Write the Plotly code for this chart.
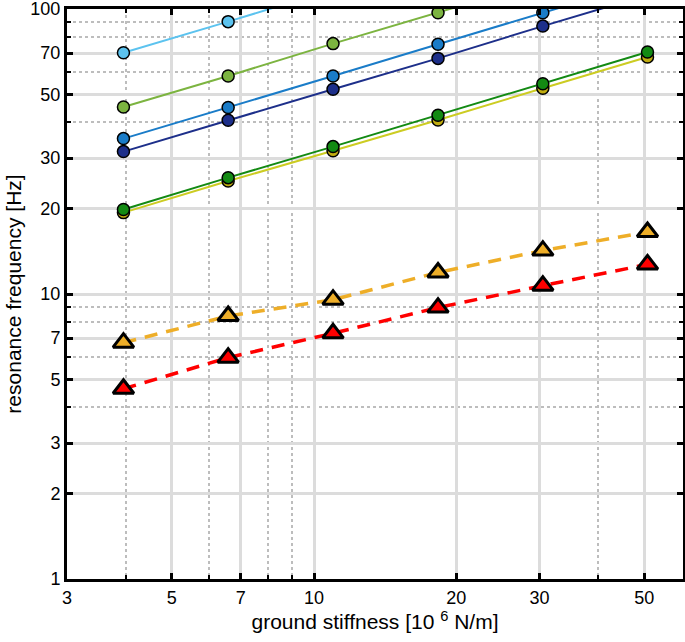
import plotly.graph_objects as go

stiffness = [3.95, 6.58, 10.97, 18.3, 30.5, 50.8]

f_lightblue = [70.2, 90.3, 117.0]
f_lightgreen = [45.3, 58.2, 75.6, 97.0, 125.0]
f_blue = [35.1, 45.1, 58.2, 75.2, 97.0, 125.0]
f_navy = [31.6, 40.7, 52.3, 67.1, 87.1, 112.0]
f_yellow = [19.3, 24.9, 31.8, 40.8, 52.7, 67.9]
f_green = [19.8, 25.6, 32.9, 42.4, 54.7, 70.7]
f_orange = [6.75, 8.37, 9.55, 11.9, 14.2, 16.5]
f_red = [4.65, 5.98, 7.28, 8.96, 10.7, 12.7]

x_major = [3, 5, 7, 10, 20, 30, 50]
x_minor = [4, 6, 8, 9, 40]
y_major = [1, 2, 3, 5, 7, 10, 20, 30, 50, 70, 100]
y_minor = [4, 6, 8, 9, 40, 60, 80, 90]

circle_series = [
    (f_lightblue, "#5cc3ef", "#5cc3ef"),
    (f_lightgreen, "#7cb440", "#7cb440"),
    (f_blue, "#1a7cc8", "#1a7cc8"),
    (f_navy, "#1d2f8a", "#1d2f8a"),
    (f_yellow, "#cccc22", "#c0ac10"),
    (f_green, "#138a13", "#138a13"),
]
tri_series = [
    (f_orange, "#eeae28"),
    (f_red, "#ff0000"),
]

fig = go.Figure()
for vals, lc, mc in circle_series:
    fig.add_trace(go.Scatter(
        x=stiffness[:len(vals)], y=vals, mode="lines+markers",
        line=dict(color=lc, width=2),
        marker=dict(size=12, color=mc, line=dict(color="black", width=1.5)),
        showlegend=False, cliponaxis=True))
for vals, c in tri_series:
    fig.add_trace(go.Scatter(
        x=stiffness, y=vals, mode="lines",
        line=dict(color=c, width=3.5, dash="13px,9px"),
        showlegend=False))
    fig.add_trace(go.Scatter(
        x=stiffness, y=vals, mode="markers",
        marker=dict(symbol="triangle-up", size=18, color=c,
                    line=dict(color="black", width=3)),
        showlegend=False, cliponaxis=False))

font = "Liberation Sans, Arial, Helvetica, sans-serif"
common = dict(
    type="log", showline=True, linecolor="black", linewidth=3, mirror="ticks",
    ticks="inside", ticklen=6, tickwidth=3, tickcolor="black",
    showgrid=True, gridcolor="#dcdcdc", gridwidth=2.5, zeroline=False,
    tickfont=dict(family=font, size=18, color="black"),
    ticklabeloverflow="allow",
)
fig.update_xaxes(
    **common, range=[0.4771, 1.781],
    tickvals=x_major, ticktext=[str(v) for v in x_major],
    minor=dict(tickvals=x_minor, showgrid=True, griddash="dot",
               gridcolor="#bdbdbd", gridwidth=2, ticks="inside",
               ticklen=4, tickwidth=2, tickcolor="black"),
    title=dict(text="ground stiffness [10 <sup>6</sup> N/m]",
               font=dict(family=font, size=21, color="black"), standoff=8),
)
fig.update_yaxes(
    **common, range=[0, 2],
    tickvals=y_major, ticktext=[str(v) for v in y_major],
    minor=dict(tickvals=y_minor, showgrid=True, griddash="dot",
               gridcolor="#bdbdbd", gridwidth=2, ticks="inside",
               ticklen=4, tickwidth=2, tickcolor="black"),
    title=dict(text="resonance frequency [Hz]",
               font=dict(family=font, size=21, color="black"), standoff=4),
)
fig.update_layout(
    width=685, height=642,
    margin=dict(l=67, r=2, t=9, b=63, autoexpand=False),
    plot_bgcolor="white", paper_bgcolor="white",
    font=dict(family=font, color="black"),
)
fig.write_html(
    "out.html",
    config={"displayModeBar": False},
    post_script="document.body.style.margin='0';document.body.style.overflow='hidden';"
                "Plotly.Plots.resize(document.getElementById('{plot_id}'));",
)
